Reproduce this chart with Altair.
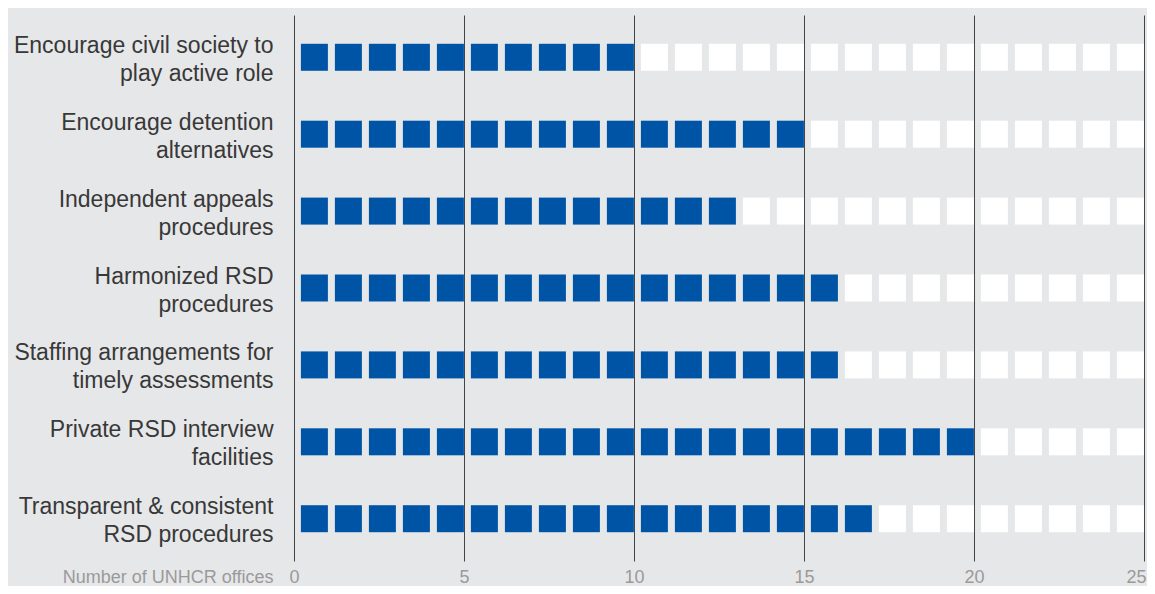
import altair as alt
import pandas as pd

categories = [
    "Encourage civil society to|play active role",
    "Encourage detention|alternatives",
    "Independent appeals|procedures",
    "Harmonized RSD|procedures",
    "Staffing arrangements for|timely assessments",
    "Private RSD interview|facilities",
    "Transparent & consistent|RSD procedures",
]
offices = [10, 15, 13, 16, 16, 20, 17]
total_cells = 25
tick_values = [0, 5, 10, 15, 20, 25]

rows = []
for cat, v in zip(categories, offices):
    for i in range(total_cells):
        rows.append({"category": cat, "pos": i + 0.6, "filled": "yes" if i < v else "no"})
df = pd.DataFrame(rows)

chart = alt.Chart(df).mark_square(size=729, opacity=1, strokeWidth=0).encode(
    x=alt.X("pos:Q",
            scale=alt.Scale(domain=[0, 25], nice=False, zero=True),
            axis=alt.Axis(values=tick_values, grid=True, gridColor="#444444", gridWidth=1,
                          gridOpacity=1, domain=False, ticks=False, tickSize=0, labelPadding=21,
                          labelFlush=False,
                          labelOffset=alt.ConditionalAxisNumber(
                              condition={"test": "datum.value == 25", "value": -8}, value=0),
                          labelFontSize=18, labelColor="#9a9a9a", labelFont="Liberation Sans",
                          labelBaseline="alphabetic",
                          title="Number of UNHCR offices", titleFontSize=18,
                          titleFontWeight="normal", titleColor="#9a9a9a",
                          titleFont="Liberation Sans", titleAlign="right",
                          titleAnchor="start", titleX=-21, titleY=21,
                          titleBaseline="alphabetic")),
    y=alt.Y("category:N", sort=categories,
            scale=alt.Scale(padding=0.55),
            axis=alt.Axis(title=None, domain=False, ticks=False, tickSize=0, grid=False,
                          labelExpr="split(datum.label, '|')", labelOffset=-12,
                          labelFontSize=23, labelLineHeight=28, labelColor="#383838",
                          labelFont="Liberation Sans", labelPadding=21, labelLimit=400)),
    color=alt.Color("filled:N", scale=alt.Scale(domain=["yes", "no"], range=["#0054a6", "#ffffff"]),
                    legend=None),
).properties(
    width=850, height=546,
    background="#e6e7e8",
    padding={"left": 286, "top": 7, "right": 3, "bottom": 25},
    autosize=alt.AutoSizeParams(type="none"),
).configure_view(stroke=None)

chart.save("out.html", embed_options={"renderer": "svg", "actions": False})
